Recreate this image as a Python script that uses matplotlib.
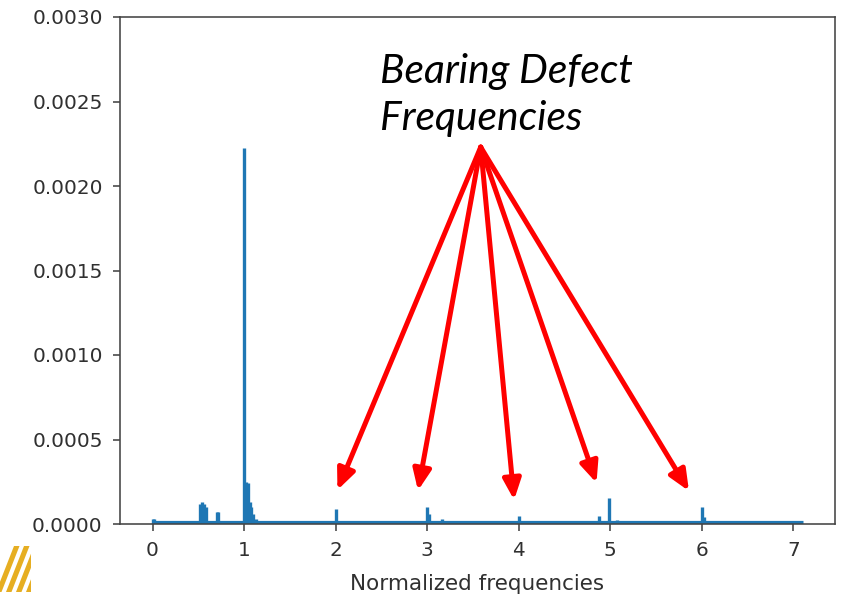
import matplotlib
matplotlib.use("Agg")
import matplotlib.pyplot as plt
from matplotlib.patches import Polygon

# ---- data ----
peak_freqs = [0.00, 0.02, 0.06, 0.12, 0.35, 0.37, 0.52, 0.54, 0.56, 0.58, 0.62, 0.66,
              0.70, 0.71, 1.00, 1.02, 1.04, 1.06, 1.08, 1.10, 1.13, 1.19, 1.22, 1.30,
              2.00, 2.50, 2.53, 3.00, 3.02, 3.16, 3.30, 3.45, 4.00, 4.10, 4.20, 4.55,
              4.62, 4.88, 4.99, 5.07, 5.50, 5.70, 5.85, 6.00, 6.02]
peak_amps = [0.00003, 0.00003, 0.00002, 0.000018, 0.00002, 0.00002, 0.00012, 0.00013,
             0.00012, 0.00010, 0.00002, 0.00002, 0.00007, 0.00007, 0.002225, 0.00025,
             0.00024, 0.00013, 0.00010, 0.00006, 0.00003, 0.00002, 0.00002, 0.000015,
             0.00009, 0.00002, 0.00002, 0.00010, 0.00006, 0.00003, 0.000015, 0.000015,
             0.00005, 0.000018, 0.000015, 0.000015, 0.000018, 0.000045, 0.000155,
             0.000025, 0.000012, 0.000015, 0.000015, 0.00010, 0.00004]
freq_range = [0.0, 7.1]
noise_floor = [0.00001, 0.00001]

x_ticks = [0, 1, 2, 3, 4, 5, 6, 7]
y_ticks = [0.0, 0.0005, 0.0010, 0.0015, 0.0020, 0.0025, 0.0030]
y_tick_labels = ["0.0000", "0.0005", "0.0010", "0.0015", "0.0020", "0.0025", "0.0030"]

annotation_text = "Bearing Defect\nFrequencies"
arrow_origin = (3.585, 0.00223)
arrow_tips_x = [2.02, 2.90, 3.95, 4.85, 5.86]
arrow_tips_y = [0.000201, 0.000198, 0.000142, 0.000243, 0.000195]

# ---- figure ----
fig = plt.figure(figsize=(8.48, 5.96), dpi=100)
ax = fig.add_axes([120/848, 1 - 524/596, (835-120)/848, (524-17)/596])

blue = "#1f77b4"
ax.plot(freq_range, noise_floor, color=blue, lw=2.3, solid_capstyle="butt")
ax.vlines(peak_freqs, 0, peak_amps, color=blue, lw=2.4)

ax.set_xlim(-0.355, 7.455)
ax.set_ylim(0, 0.003)
ax.set_xticks(x_ticks)
ax.set_yticks(y_ticks)
ax.set_yticklabels(y_tick_labels)

tick_color = "#303030"
ax.tick_params(axis="both", length=5, width=1.15, colors="#444444",
               labelcolor=tick_color, labelsize=14.4)
ax.tick_params(axis="y", pad=7.5)
ax.tick_params(axis="x", pad=7)
for s in ax.spines.values():
    s.set_linewidth(1.15)
    s.set_color("#444444")

ax.set_xlabel("Normalized frequencies", fontsize=15.5, color=tick_color, labelpad=10.5)

# annotation text (baseline of last line)
ax.text(380/848, 1 - 130/596, annotation_text, transform=fig.transFigure,
        fontsize=29.3, style="italic", family=["Lato", "DejaVu Sans"],
        color="black", ha="left", va="baseline", linespacing=1.33)

for tx, ty in zip(arrow_tips_x, arrow_tips_y):
    ax.annotate("", xy=(tx, ty), xytext=arrow_origin, xycoords="data",
                textcoords="data", annotation_clip=False,
                arrowprops=dict(arrowstyle="-|>,head_length=0.62,head_width=0.27",
                                mutation_scale=20, lw=3.6, color="red",
                                shrinkA=0, shrinkB=0))

# logo fragment bottom-left (decorative stripes)
gold = "#E6AE22"
for i in range(4):
    x0 = -4 + i * 10
    pts = [(x0, 4), (x0 + 5.5, 4), (x0 + 5.5 + 18, 50), (x0 + 18, 50)]
    pts = [(p[0] / 848, p[1] / 596) for p in pts]
    poly = Polygon(pts, closed=True, transform=fig.transFigure, color=gold, lw=0)
    fig.add_artist(poly)
cover = Polygon([(31/848, 0), (60/848, 0), (60/848, 52/596), (31/848, 52/596)],
                closed=True, transform=fig.transFigure, color="white", lw=0)
fig.add_artist(cover)

fig.savefig("out.png", dpi=100)
